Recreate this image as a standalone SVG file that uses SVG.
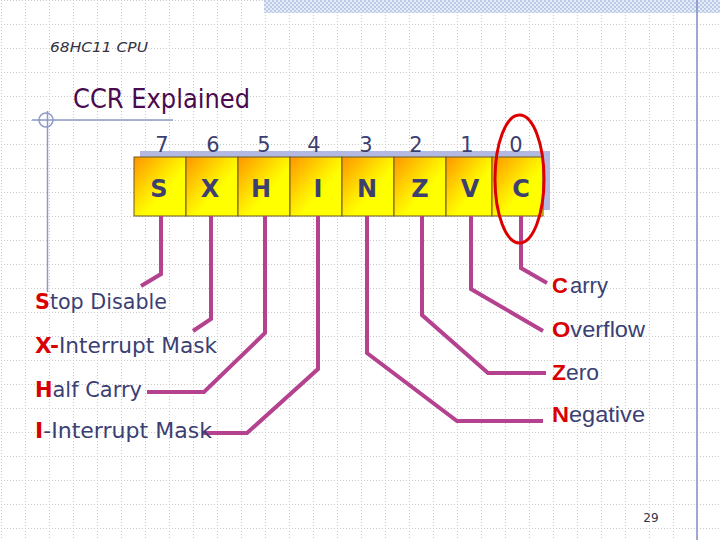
<svg xmlns="http://www.w3.org/2000/svg" width="720" height="540" viewBox="0 0 720 540">
<defs>
<pattern id="grid" x="1" y="0" width="24" height="24" patternUnits="userSpaceOnUse">
<path d="M0.5 0V24M0 0.5H24" stroke="#c9c9c9" stroke-width="1" stroke-dasharray="1 2" fill="none"/>
</pattern>
<pattern id="check" x="0" y="0" width="4" height="4" patternUnits="userSpaceOnUse">
<rect width="4" height="4" fill="#e6ecf7"/>
<rect width="2" height="2" fill="#bccbe8"/>
<rect x="2" y="2" width="2" height="2" fill="#bccbe8"/>
</pattern>
<linearGradient id="boxg" x1="0" y1="0" x2="1" y2="1">
<stop offset="0" stop-color="#ff9400"/>
<stop offset="0.45" stop-color="#ffe800"/>
<stop offset="0.6" stop-color="#ffff00"/>
<stop offset="1" stop-color="#ffff00"/>
</linearGradient>
<style>
.box{fill:url(#boxg);stroke:#6b5b25;stroke-width:1}
.bit{font-family:"DejaVu Sans",Verdana,sans-serif;font-size:24px;font-weight:bold;fill:#3c3f70;text-anchor:middle}
.num{font-family:"DejaVu Sans",Verdana,sans-serif;font-size:21px;fill:#3c3f70;text-anchor:middle}
.lbl{font-family:"DejaVu Sans",Verdana,sans-serif;font-size:21px;fill:#3b3f73}
.rlbl{font-family:"Liberation Sans",Arial,sans-serif;font-size:22px;fill:#3b3f73}
.red{fill:#d80000;font-weight:bold}
.conn{fill:none;stroke:#b5428f;stroke-width:4;stroke-linejoin:miter}
.deco{fill:none;stroke:#8d9ac8;stroke-width:1.5}
</style>
</defs>
<rect width="720" height="540" fill="#ffffff"/>
<rect width="720" height="540" fill="url(#grid)"/>
<rect x="264" y="0" width="456" height="13" fill="url(#check)"/>
<line x1="697" y1="0" x2="697" y2="540" stroke="#7f8cc4" stroke-width="1.5"/>
<g id="decor">
<line class="deco" x1="32" y1="120" x2="173" y2="120"/>
<line class="deco" x1="47.5" y1="111" x2="47.5" y2="292"/>
<circle class="deco" cx="46" cy="120" r="7"/>
</g>
<g id="header">
<text x="50" y="52" font-family="'DejaVu Sans',Verdana,sans-serif" font-style="italic" font-size="14" fill="#333344" textLength="98" lengthAdjust="spacingAndGlyphs">68HC11 CPU</text>
<text x="73" y="108" font-family="'DejaVu Sans',Tahoma,sans-serif" font-size="26" fill="#4a0a4f" textLength="177" lengthAdjust="spacingAndGlyphs">CCR Explained</text>
</g>
<rect id="register-shadow" x="140" y="151" width="410" height="59" fill="#b4b9e2"/>
<g id="bit7"><rect class="box" x="134" y="157" width="52" height="59"/><text class="num" x="162" y="152">7</text><text class="bit" x="159" y="197">S</text></g>
<g id="bit6"><rect class="box" x="186" y="157" width="52" height="59"/><text class="num" x="213" y="152">6</text><text class="bit" x="210" y="197">X</text></g>
<g id="bit5"><rect class="box" x="238" y="157" width="52" height="59"/><text class="num" x="264" y="152">5</text><text class="bit" x="261" y="197">H</text></g>
<g id="bit4"><rect class="box" x="290" y="157" width="52" height="59"/><text class="num" x="314" y="152">4</text><text class="bit" x="318" y="197">I</text></g>
<g id="bit3"><rect class="box" x="342" y="157" width="52" height="59"/><text class="num" x="366" y="152">3</text><text class="bit" x="367" y="197">N</text></g>
<g id="bit2"><rect class="box" x="394" y="157" width="52" height="59"/><text class="num" x="416" y="152">2</text><text class="bit" x="420" y="197">Z</text></g>
<g id="bit1"><rect class="box" x="446" y="157" width="46" height="59"/><text class="num" x="467" y="152">1</text><text class="bit" x="470" y="197">V</text></g>
<g id="bit0"><rect class="box" x="492" y="157" width="51" height="59"/><text class="num" x="516" y="152">0</text><text class="bit" x="521" y="197">C</text></g>
<g id="connectors">
<path class="conn" d="M161 216V274L141 286"/>
<path class="conn" d="M211 216V319L193 331"/>
<path class="conn" d="M265 216V333L204 392H147"/>
<path class="conn" d="M318 216V369L247 433H202"/>
<path class="conn" d="M367 216V353L457 421H543"/>
<path class="conn" d="M422 216V315L488 373H546"/>
<path class="conn" d="M471 216V289L543 331"/>
<path class="conn" d="M521 216V268L547 283"/>
</g>
<ellipse id="highlight" cx="519.5" cy="179" rx="24.5" ry="64" fill="none" stroke="#dd0000" stroke-width="3"/>
<g id="label-S"><text class="lbl" x="35" y="309" textLength="132" lengthAdjust="spacingAndGlyphs"><tspan class="red">S</tspan>top Disable</text></g>
<g id="label-X"><text class="lbl" x="35" y="353" textLength="182" lengthAdjust="spacingAndGlyphs"><tspan class="red">X-</tspan>Interrupt Mask</text></g>
<g id="label-H"><text class="lbl" x="35" y="397" textLength="107" lengthAdjust="spacingAndGlyphs"><tspan class="red">H</tspan>alf Carry</text></g>
<g id="label-I"><text class="lbl" x="35" y="438" textLength="177" lengthAdjust="spacingAndGlyphs"><tspan class="red">I</tspan>-Interrupt Mask</text></g>
<g id="label-C"><text class="rlbl" x="552" y="293"><tspan class="red">C</tspan><tspan x="570">arry</tspan></text></g>
<g id="label-V"><text class="rlbl" x="552" y="337" textLength="93" lengthAdjust="spacingAndGlyphs"><tspan class="red">O</tspan>verflow</text></g>
<g id="label-Z"><text class="rlbl" x="552" y="380" textLength="47" lengthAdjust="spacingAndGlyphs"><tspan class="red">Z</tspan>ero</text></g>
<g id="label-N"><text class="rlbl" x="552" y="422" textLength="93" lengthAdjust="spacingAndGlyphs"><tspan class="red">N</tspan>egative</text></g>
<text id="page" x="651" y="522" font-family="'DejaVu Sans',Verdana,sans-serif" font-size="12" fill="#333344" text-anchor="middle">29</text>
</svg>
